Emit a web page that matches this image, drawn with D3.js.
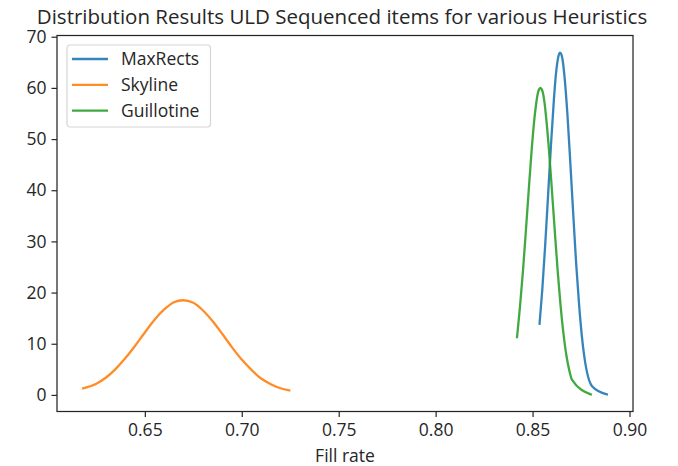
<!DOCTYPE html>
<html>
<head>
<meta charset="utf-8">
<script src="https://cdn.jsdelivr.net/npm/d3@7"></script>
<style>
  html, body { margin: 0; padding: 0; background: #fff; }
  svg { display: block; font-family: "Open Sans", sans-serif; }
</style>
</head>
<body>
<svg id="chart" width="678" height="466"></svg>
<script>
// Fill-rate distributions per packing heuristic (x = fill rate, y = density)
const seriesNames = ["MaxRects", "Skyline", "Guillotine"];
const seriesColors = ["#1f77b4", "#ff7f0e", "#2ca02c"];

const maxRectsX = [0.8536, 0.8550, 0.8565, 0.8580, 0.8595, 0.8610, 0.8620, 0.8627, 0.8634, 0.8642, 0.8649, 0.8656, 0.8665, 0.8680, 0.8695, 0.8710, 0.8725, 0.8740, 0.8754, 0.8807, 0.8883];
const maxRectsY = [13.9, 20.5, 29.2, 39.0, 48.9, 57.7, 62.5, 64.8, 66.3, 66.9, 66.5, 65.2, 62.1, 54.7, 45.2, 35.2, 25.6, 17.6, 11.6, 1.7, 0.1];

const skylineX = [0.6182, 0.625, 0.630, 0.635, 0.640, 0.645, 0.650, 0.655, 0.660, 0.665, 0.6697, 0.675, 0.680, 0.685, 0.690, 0.695, 0.700, 0.705, 0.710, 0.715, 0.720, 0.7245];
const skylineY = [1.3, 2.2, 3.4, 5.1, 7.2, 9.6, 12.2, 14.7, 16.7, 18.1, 18.5, 18.0, 16.5, 14.4, 11.9, 9.3, 6.9, 4.9, 3.2, 2.1, 1.3, 0.9];

const guillotineX = [0.8420, 0.8435, 0.8450, 0.8465, 0.8480, 0.8495, 0.8510, 0.8520, 0.8528, 0.8535, 0.8540, 0.8546, 0.8553, 0.8561, 0.8570, 0.8585, 0.8600, 0.8615, 0.8630, 0.8645, 0.8660, 0.8675, 0.8690, 0.8703, 0.8800];
const guillotineY = [11.3, 17.2, 24.0, 31.8, 39.9, 47.7, 54.2, 57.3, 59.1, 59.8, 60.0, 59.8, 59.1, 57.3, 54.2, 47.7, 39.9, 31.8, 24.0, 17.2, 11.8, 7.6, 4.7, 3.0, 0.1];

const xTicks = [0.65, 0.70, 0.75, 0.80, 0.85, 0.90];
const yTicks = [0, 10, 20, 30, 40, 50, 60, 70];

const titleText = "Distribution Results ULD Sequenced items for various Heuristics";
const xLabelText = "Fill rate";

const series = [
  { name: seriesNames[0], color: seriesColors[0], x: maxRectsX, y: maxRectsY },
  { name: seriesNames[1], color: seriesColors[1], x: skylineX, y: skylineY },
  { name: seriesNames[2], color: seriesColors[2], x: guillotineX, y: guillotineY }
];

const svg = d3.select("#chart");
const plot = { left: 57, top: 35.5, width: 576, height: 376 };
const font = "Open Sans, sans-serif";
const ink = "#262626";
const labelSize = 17.5;

// Axis limits with 5% padding around the data range
const allX = series.flatMap(s => s.x);
const allY = series.flatMap(s => s.y);
const [x0, x1] = d3.extent(allX);
const [y0, y1] = d3.extent(allY);
const xm = (x1 - x0) * 0.05, ym = (y1 - y0) * 0.05;

const x = d3.scaleLinear().domain([x0 - xm, x1 + xm]).range([plot.left, plot.left + plot.width]);
const y = d3.scaleLinear().domain([y0 - ym, y1 + ym]).range([plot.top + plot.height, plot.top]);

const line = d3.line().x(d => x(d[0])).y(d => y(d[1])).curve(d3.curveMonotoneX);

const g = svg.append("g");

// Curves
series.forEach(s => {
  g.append("path")
    .datum(s.x.map((v, i) => [v, s.y[i]]))
    .attr("fill", "none")
    .attr("stroke", s.color)
    .attr("stroke-opacity", 0.9)
    .attr("stroke-width", 2.3)
    .attr("stroke-linejoin", "round")
    .attr("stroke-linecap", "square")
    .attr("d", line);
});

// Axes
const xAxis = d3.axisBottom(x).tickValues(xTicks).tickFormat(d3.format(".2f")).tickSizeOuter(0).tickSize(5.5).tickPadding(7);
const yAxis = d3.axisLeft(y).tickValues(yTicks).tickFormat(d3.format("d")).tickSizeOuter(0).tickSize(5.5).tickPadding(5);

const gx = svg.append("g").attr("transform", `translate(0,${plot.top + plot.height})`).call(xAxis);
const gy = svg.append("g").attr("transform", `translate(${plot.left},0)`).call(yAxis);

[gx, gy].forEach(a => {
  a.select(".domain").remove();
  a.selectAll(".tick line").attr("stroke", ink).attr("stroke-width", 1.2);
  a.selectAll(".tick text").attr("fill", ink).attr("font-size", labelSize).attr("font-family", font);
});

// Frame
svg.append("rect")
  .attr("x", plot.left).attr("y", plot.top)
  .attr("width", plot.width).attr("height", plot.height)
  .attr("fill", "none").attr("stroke", ink).attr("stroke-width", 1.25);

// Title and axis label
svg.append("text")
  .attr("x", plot.left + plot.width / 2 - 3).attr("y", 23.5)
  .attr("text-anchor", "middle").attr("font-size", 20.5).attr("fill", ink)
  .text(titleText);

svg.append("text")
  .attr("x", plot.left + plot.width / 2).attr("y", 462)
  .attr("text-anchor", "middle").attr("font-size", labelSize).attr("fill", ink)
  .text(xLabelText);

// Legend
const legend = svg.append("g").attr("transform", "translate(67,45)");
legend.append("rect")
  .attr("width", 143.5).attr("height", 82).attr("rx", 3)
  .attr("fill", "#fff").attr("fill-opacity", 0.8)
  .attr("stroke", "#d5d5d5").attr("stroke-width", 1.2);

series.forEach((s, i) => {
  const ly = 14 + i * 25.8;
  legend.append("line")
    .attr("x1", 5).attr("x2", 41).attr("y1", ly).attr("y2", ly)
    .attr("stroke", s.color).attr("stroke-opacity", 0.9).attr("stroke-width", 2.3);
  legend.append("text")
    .attr("x", 54).attr("y", ly).attr("dy", "0.35em")
    .attr("font-size", labelSize).attr("fill", ink)
    .text(s.name);
});
</script>
</body>
</html>
